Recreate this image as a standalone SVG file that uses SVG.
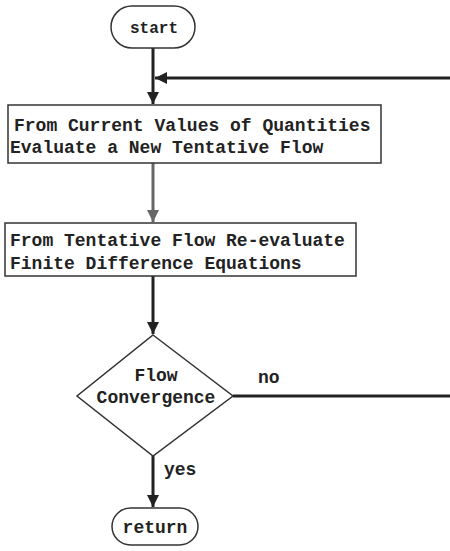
<svg xmlns="http://www.w3.org/2000/svg" width="450" height="551" viewBox="0 0 450 551">
<style>
.t{font-family:"Liberation Mono","Courier New",monospace;font-size:18px;font-weight:bold;fill:#222}
.s{fill:#fff;stroke:#333;stroke-width:1.5}
.c{fill:none;stroke:#222;stroke-width:3}
</style>
<defs>
<marker id="ah" viewBox="0 0 10 10" refX="10" refY="5" markerWidth="4.5" markerHeight="4" orient="auto" markerUnits="strokeWidth">
<path d="M0,0 L10,5 L0,10 z" fill="#222"/>
</marker>
<marker id="ahg" viewBox="0 0 10 10" refX="10" refY="5" markerWidth="4.5" markerHeight="4" orient="auto" markerUnits="strokeWidth">
<path d="M0,0 L10,5 L0,10 z" fill="#666"/>
</marker>
</defs>
<rect width="450" height="551" fill="#fff"/>
<g id="connectors">
<line class="c" x1="153" y1="48" x2="153" y2="104" marker-end="url(#ah)"/>
<line class="c" x1="450" y1="78" x2="155" y2="78" marker-end="url(#ah)"/>
<line class="c" x1="153" y1="163" x2="153" y2="222" style="stroke:#666" marker-end="url(#ahg)"/>
<line class="c" x1="153" y1="276" x2="153" y2="334" marker-end="url(#ah)"/>
<line class="c" x1="233" y1="396" x2="450" y2="396"/>
<line class="c" x1="153" y1="456" x2="153" y2="507" marker-end="url(#ah)"/>
<text class="t" x="258" y="383">no</text>
<text class="t" x="164" y="475">yes</text>
</g>
<g id="start">
<rect class="s" x="111" y="6" width="84" height="42" rx="21"/>
<text class="t" x="154" y="33" text-anchor="middle" style="font-size:16px">start</text>
</g>
<g id="evaluate">
<rect class="s" x="8" y="105" width="373" height="58"/>
<text class="t" x="14" y="131">From Current Values of Quantities</text>
<text class="t" x="10" y="153">Evaluate a New Tentative Flow</text>
</g>
<g id="reevaluate">
<rect class="s" x="5" y="223" width="351" height="53"/>
<text class="t" x="10" y="246">From Tentative Flow Re-evaluate</text>
<text class="t" x="10" y="269">Finite Difference Equations</text>
</g>
<g id="convergence">
<polygon class="s" points="153,335 233,396 153,456 77,396"/>
<text class="t" x="156" y="381" text-anchor="middle">Flow</text>
<text class="t" x="156" y="403" text-anchor="middle">Convergence</text>
</g>
<g id="return">
<rect class="s" x="112" y="508" width="86" height="37" rx="18.5"/>
<text class="t" x="155" y="533" text-anchor="middle">return</text>
</g>
</svg>
